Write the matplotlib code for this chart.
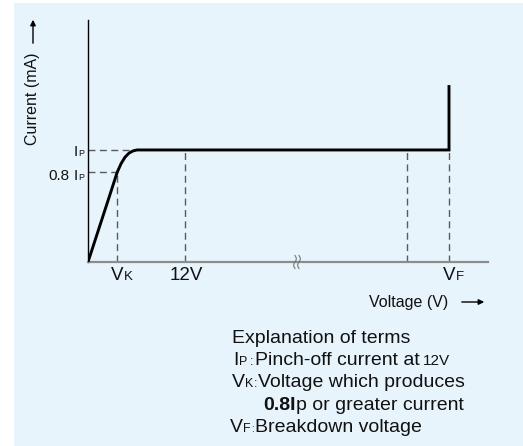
import numpy as np
import matplotlib
matplotlib.use("Agg")
from matplotlib import pyplot as plt
from matplotlib.patches import Rectangle
from matplotlib.transforms import IdentityTransform

# schematic units: x 0..100 along the voltage axis, y 0..100 along the current axis
curve_v = [0, 5.5, 7.28, 8.25, 9.25, 10.25, 11.25, 12.25, 90.25, 90.25]
curve_i = [0, 27.9, 37.0, 40.6, 43.3, 45.0, 45.9, 46.3, 46.3, 73.1]

ip_level = 46.3
ip80_level = 37.0
v_k = 7.28
v_12 = 24.25
v_pre = 79.75
v_f = 90.25
v_break = 52.25

guide_v = [v_k, v_12, v_pre, v_f]
guide_top = [ip80_level, ip_level, ip_level, ip_level]
hguide_level = [ip_level, ip80_level]
hguide_end = [10.5, v_k]

W, H = 523, 446
FONT = ["Liberation Sans", "DejaVu Sans"]
TXT = "#111111"

fig = plt.figure(figsize=(W / 100, H / 100), dpi=100)
fig.patch.set_facecolor("white")
fig.patches.append(Rectangle((14 / W, 0), 1, (H - 3) / H, transform=fig.transFigure,
                             facecolor="#e8f4fc", edgecolor="none", zorder=-10))

ax = fig.add_axes([88 / W, (H - 262) / H, 400 / W, 242 / H])
ax.set_facecolor("none")
ax.set_xlim(0, 100)
ax.set_ylim(0, 100)
for s in ["top", "right"]:
    ax.spines[s].set_visible(False)
ax.spines["left"].set_color("black")
ax.spines["left"].set_linewidth(1.0)
ax.spines["bottom"].set_color("#8c8c8c")
ax.spines["bottom"].set_linewidth(1.6)
ax.set_xticks([])
ax.set_yticks([])

# dashed guides
for v, top in zip(guide_v, guide_top):
    ax.plot([v, v], [0, top], color="#5a5a5a", lw=1.0, ls=(0, (5, 3.2)), zorder=2)
for lvl, end in zip(hguide_level, hguide_end):
    ax.plot([0, end], [lvl, lvl], color="#5a5a5a", lw=1.0, ls=(0, (5, 3.2)), zorder=2)

# characteristic curve
ax.plot(curve_v, curve_i, color="black", lw=2.1, solid_capstyle="butt",
        solid_joinstyle="miter", zorder=3)

# axis break mark
bx, by = ax.transData.transform((v_break, 0))
tt = np.linspace(-1, 1, 30)
for off in (-2.0, 2.0):
    fig.lines.append(plt.Line2D(bx + off + 1.3 * np.sin(tt * np.pi), by + tt * 6.5,
                                transform=IdentityTransform(), color="#777777", lw=0.8))

renderer = fig.canvas.get_renderer()


def draw_pieces(pieces, x, y, ha="left"):
    # pieces: (text, size, weight, gap before in px)
    objs = []
    for s, size, weight, gap in pieces:
        t = fig.text(0, 0, s, fontsize=size, fontweight=weight, family=FONT, color=TXT,
                     transform=IdentityTransform(), ha="left", va="baseline")
        objs.append((t, gap))
    widths = [t.get_window_extent(renderer).width for t, _ in objs]
    total = sum(widths) + sum(g for _, g in objs)
    if ha == "right":
        x = x - total
    elif ha == "center":
        x = x - total / 2
    cx = x
    for (t, gap), w in zip(objs, widths):
        cx += gap
        t.set_position((cx, y))
        cx += w
    return widths


def px(p):
    return H - p


# tick labels on the voltage axis
x_vk = ax.transData.transform((v_k, 0))[0]
x_12 = ax.transData.transform((v_12, 0))[0]
x_vf = ax.transData.transform((v_f, 0))[0]
draw_pieces([("V", 13.5, "normal", 0), ("K", 9.5, "normal", 0.5)], x_vk - 6.5, px(280))
draw_pieces([("12V", 13.5, "normal", 0)], x_12 + 1, px(280), ha="center")
draw_pieces([("V", 13.5, "normal", 0), ("F", 9.5, "normal", 0.5)], x_vf - 6.5, px(280))

# current level labels
draw_pieces([("I", 11, "normal", 0), ("P", 6.5, "normal", 0.5)], 84, px(156), ha="right")
draw_pieces([("0.8", 11, "normal", 0), ("I", 11, "normal", 3.5), ("P", 6.5, "normal", 0.5)],
            84, px(180), ha="right")

# axis titles with arrows
fig.text(33, px(99), "Current (mA)", rotation=90, fontsize=11.5, family=FONT, color=TXT,
         transform=IdentityTransform(), ha="center", va="center")
fig.patches.append(matplotlib.patches.FancyArrowPatch((33, px(46)), (33, px(17)),
                   transform=IdentityTransform(), arrowstyle="-|>", mutation_scale=8,
                   color="black", lw=1.0))
fig.text(409, px(302), "Voltage (V)", fontsize=11.5, family=FONT, color=TXT,
         transform=IdentityTransform(), ha="center", va="center")
fig.patches.append(matplotlib.patches.FancyArrowPatch((459, px(302)), (487, px(302)),
                   transform=IdentityTransform(), arrowstyle="-|>", mutation_scale=8,
                   color="black", lw=1.0))

# explanation block
draw_pieces([("Explanation of terms", 14, "normal", 0)], 232, px(343))
draw_pieces([("I", 14, "normal", 0), ("P", 9, "normal", 0.5), (":", 9, "normal", 3),
             ("Pinch-off current at", 14, "normal", 1), ("12V", 11, "normal", 4)],
            233, px(365))
draw_pieces([("V", 14, "normal", 0), ("K", 9, "normal", 0.5), (":", 9, "normal", 0.5),
             ("Voltage which produces", 14, "normal", 0.5)], 232, px(387))
draw_pieces([("0.8I", 14, "bold", 0), ("p or greater current", 14, "normal", 0)],
            263, px(410))
draw_pieces([("V", 14, "normal", 0), ("F", 9, "normal", 0.5), (":", 7, "normal", 0.5),
             ("Breakdown voltage", 14, "normal", 0.5)], 230, px(432))

fig.savefig("out.png", dpi=100)
